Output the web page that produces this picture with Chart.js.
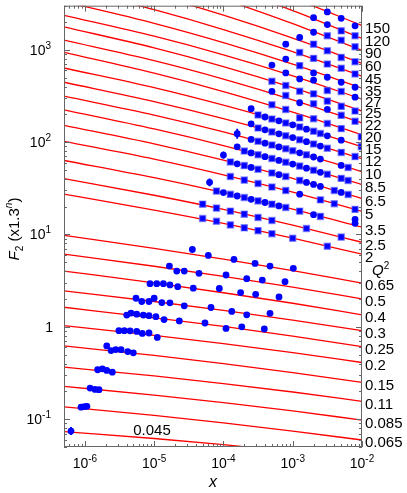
<!DOCTYPE html>
<html>
<head>
<meta charset="utf-8">
<script src="https://cdn.jsdelivr.net/npm/chart.js@4.4.0/dist/chart.umd.min.js"></script>
<style>
  body { margin: 0; background: #fff; }
  canvas { display: block; }
</style>
</head>
<body>
<canvas id="f2Chart" width="407" height="493"></canvas>
<script>
// Q2 bins, top curve first
const q2Bins = ['150', '120', '90', '60', '45', '35', '27', '25', '22', '20', '15', '12', '10', '8.5', '6.5', '5', '3.5', '2.5', '2',
    '0.65', '0.5', '0.4', '0.3', '0.25', '0.2', '0.15', '0.11', '0.085', '0.065', '0.045'];

// fit curves, read at these x
const fitX = [5e-7, 1e-5, 1e-4, 1e-3, 1e-2];
const fitF2 = [
    [23460, 12100, 6839, 3642, 1828],
    [17290, 8876, 4995, 2649, 1324],
    [11490, 6100, 3523, 1917, 984],
    [7071, 3947, 2368, 1338, 713],
    [4757, 2716, 1657, 953, 517],
    [3330, 1936, 1197, 698, 384],
    [2359, 1402, 882, 523, 292],
    [1770, 1048, 658, 389, 217],
    [1270, 761, 481, 287, 161],
    [936, 558, 353, 211, 120],
    [635, 389, 251, 154, 88.9],
    [445, 275, 180, 112, 66.1],
    [315, 196, 129, 80.6, 47.9],
    [224, 139, 91.9, 57.8, 34.7],
    [152, 95.8, 63.8, 40.5, 24.5],
    [102, 65.4, 44.2, 28.7, 17.8],
    [63.3, 41.2, 28.4, 18.8, 12.0],
    [40.3, 26.6, 18.7, 12.6, 8.24],
    [27.3, 18.4, 13.2, 9.12, 6.12],
    [9.80, 7.09, 5.42, 4.06, 2.98],
    [6.12, 4.53, 3.52, 2.69, 2.01],
    [4.02, 3.00, 2.34, 1.80, 1.35],
    [2.45, 1.88, 1.51, 1.18, 0.909],
    [1.63, 1.25, 1.01, 0.792, 0.611],
    [1.03, 0.808, 0.658, 0.525, 0.411],
    [0.622, 0.490, 0.400, 0.319, 0.250],
    [0.366, 0.294, 0.243, 0.197, 0.156],
    [0.227, 0.182, 0.151, 0.123, 0.0977],
    [0.136, 0.110, 0.0913, 0.0744, 0.0595],
    [0.0735, 0.0618, 0.0530, 0.0445, 0.0367]
];

// measured points per bin (c = circle, s = square)
const dataX = [
    [3.16e-3, 5.01e-3, 7.94e-3],
    [2.0e-3, 3.16e-3, 5.01e-3, 7.94e-3],
    [2.0e-3, 3.16e-3, 5.01e-3, 7.94e-3],
    [1.26e-3, 2.0e-3, 3.16e-3, 5.01e-3, 7.94e-3],
    [7.94e-4, 1.26e-3, 2.0e-3, 3.16e-3, 5.01e-3, 7.94e-3],
    [7.94e-4, 1.26e-3, 2.0e-3, 3.16e-3, 5.01e-3, 7.94e-3],
    [5.01e-4, 7.94e-4, 1.26e-3, 2.0e-3, 3.16e-3, 5.01e-3, 7.94e-3],
    [5.01e-4, 7.94e-4, 1.26e-3, 2.0e-3, 3.16e-3, 5.01e-3, 7.94e-3],
    [5.01e-4, 7.94e-4, 1.26e-3, 2.0e-3, 3.16e-3, 5.01e-3, 7.94e-3],
    [5.01e-4, 7.94e-4, 1.26e-3, 2.0e-3, 3.16e-3, 5.01e-3, 9.77e-3],
    [2.51e-4, 3.16e-4, 3.98e-4, 5.01e-4, 6.31e-4, 7.94e-4, 1.0e-3, 1.26e-3, 1.58e-3, 2.0e-3, 2.51e-3, 3.16e-3, 5.01e-3, 9.77e-3],
    [2.51e-4, 3.16e-4, 3.98e-4, 5.01e-4, 6.31e-4, 7.94e-4, 1.0e-3, 1.26e-3, 1.58e-3, 2.0e-3, 2.51e-3, 3.16e-3, 5.01e-3, 7.94e-3],
    [1.58e-4, 2.51e-4, 3.16e-4, 3.98e-4, 5.01e-4, 6.31e-4, 7.94e-4, 1.0e-3, 1.26e-3, 1.58e-3, 2.0e-3, 2.51e-3, 5.01e-3, 6.31e-3],
    [1.58e-4, 2.0e-4, 2.51e-4, 3.16e-4, 3.98e-4, 5.01e-4, 6.31e-4, 7.94e-4, 1.0e-3, 1.26e-3, 1.58e-3, 2.0e-3, 2.51e-3, 3.16e-3, 5.01e-3, 6.31e-3],
    [1.0e-4, 1.26e-4, 1.58e-4, 2.0e-4, 2.51e-4, 3.16e-4, 5.01e-4, 6.31e-4, 7.94e-4, 1.26e-3, 1.58e-3, 2.0e-3, 2.51e-3, 3.98e-3, 5.01e-3, 6.31e-3],
    [1.26e-4, 2.0e-4, 3.16e-4, 5.01e-4, 7.94e-4, 1.26e-3, 2.51e-3, 3.98e-3, 7.94e-3],
    [6.31e-5, 7.94e-5, 1.0e-4, 1.26e-4, 1.58e-4, 2.0e-4, 2.51e-4, 3.16e-4, 3.98e-4, 5.01e-4, 6.31e-4, 7.94e-4, 1.26e-3, 2.0e-3, 2.51e-3, 7.94e-3, 7.94e-3],
    [5.01e-5, 7.94e-5, 1.26e-4, 2.0e-4, 3.16e-4, 5.01e-4, 1.58e-3, 5.01e-3],
    [5.01e-5, 7.94e-5, 1.26e-4, 2.0e-4, 3.16e-4, 5.01e-4, 1.0e-3, 3.16e-3],
    [3.56e-5, 6.05e-5, 1.42e-4, 2.86e-4, 4.70e-4, 1.02e-3],
    [1.66e-5, 2.12e-5, 2.72e-5, 4.44e-5, 1.09e-4, 2.17e-4, 3.64e-4, 7.74e-4],
    [8.71e-6, 1.09e-5, 1.36e-5, 1.69e-5, 2.19e-5, 3.67e-5, 8.72e-5, 1.77e-4, 2.92e-4, 6.34e-4],
    [5.47e-6, 6.62e-6, 8.43e-6, 1.00e-5, 1.29e-5, 1.69e-5, 2.72e-5, 6.62e-5, 1.32e-4, 2.17e-4, 4.70e-4],
    [4.02e-6, 4.64e-6, 5.60e-6, 6.98e-6, 8.43e-6, 1.06e-5, 1.39e-5, 2.31e-5, 5.42e-5, 1.09e-4, 1.84e-4, 3.89e-4],
    [3.10e-6, 3.71e-6, 4.49e-6, 5.60e-6, 6.75e-6, 8.43e-6, 1.11e-5],
    [2.07e-6, 2.39e-6, 2.79e-6, 3.33e-6, 4.16e-6, 5.01e-6],
    [1.53e-6, 1.79e-6, 2.07e-6, 2.49e-6],
    [1.19e-6, 1.40e-6, 1.60e-6],
    [8.81e-7, 9.89e-7, 1.07e-6],
    [6.31e-7]
];
const dataF2 = [
    [2567, 2190, 1815],
    [2228, 1874, 1603, 1416],
    [1548, 1416, 1270, 1078],
    [1358, 1150, 976, 827, 743],
    [1150, 936, 807, 700, 630, 547],
    [793, 673, 561, 504, 445, 393],
    [683, 561, 483, 468, 362, 354, 307],
    [456, 410, 356, 333, 278, 244, 217],
    [354, 320, 267, 260, 226, 195, 168],
    [254, 226, 183, 179, 159, 140, 114],
    [230, 197, 187, 178, 170, 161, 154, 146, 138, 131, 124, 117, 105, 89.3],
    [158, 142, 136, 129, 123, 117, 112, 106, 101, 95.5, 90.6, 86.0, 77.4, 69.7],
    [123.6, 107, 102, 97.4, 92.9, 88.7, 84.6, 80.7, 76.6, 72.8, 69.0, 65.5, 56.0, 53.1],
    [88.9, 80.0, 76.4, 72.9, 69.5, 66.4, 63.4, 60.5, 57.8, 55.0, 52.2, 49.5, 47.1, 44.8, 40.5, 38.4],
    [72.4, 61.0, 58.2, 55.7, 53.2, 50.8, 46.4, 44.4, 42.4, 38.5, 36.6, 34.8, 33.1, 30.0, 28.5, 27.1],
    [42.4, 38.8, 35.6, 32.6, 29.9, 27.3, 23.7, 21.5, 18.7],
    [36.7, 29.5, 28.4, 27.2, 26.1, 25.1, 24.0, 23.1, 22.2, 21.3, 20.4, 19.6, 17.9, 16.4, 15.7, 14.6, 13.2],
    [21.3, 19.3, 17.9, 16.6, 15.3, 14.2, 11.6, 9.37],
    [14.9, 13.9, 12.7, 11.8, 11.0, 10.2, 9.12, 7.47],
    [6.88, 5.93, 5.37, 4.86, 4.55, 4.30],
    [4.55, 4.02, 4.02, 3.80, 3.64, 3.32, 3.21, 3.08],
    [2.93, 2.93, 2.93, 2.84, 2.72, 2.62, 2.60, 2.35, 2.25, 2.11],
    [2.04, 1.88, 1.88, 2.04, 1.83, 1.82, 1.69, 1.62, 1.47, 1.35, 1.40],
    [1.34, 1.41, 1.37, 1.34, 1.32, 1.29, 1.20, 1.16, 1.10, 0.962, 1.00, 0.947],
    [0.908, 0.908, 0.905, 0.893, 0.849, 0.858, 0.769],
    [0.622, 0.553, 0.568, 0.566, 0.540, 0.523],
    [0.343, 0.351, 0.337, 0.323],
    [0.217, 0.210, 0.209],
    [0.135, 0.137, 0.138],
    [0.0744]
];
const dataShape = ['ccc', 'ccss', 'csss', 'cssss', 'csssss', 'cscccc', 'ccccssc', 'sssssss', 'cscscss', 'sssssss',
    'cscscscscssccs', 'cscscscscscsss', 'ccscscsscscccs', 'cscscscscscscsss', 'cscscsscsscccscs', 'ssssscsss',
    'cscscscscscsscscc', 'ssssssss', 'ssssssss',
    'cccccc', 'cccccccc', 'cccccccccc', 'ccccccccccc', 'cccccccccccc', 'ccccccc', 'cccccc', 'cccc', 'ccc', 'ccc', 'c'];

// visible error bars: bin index, point index, low, high
const errBin = [12, 13, 14, 16, 29];
const errIdx = [0, 0, 0, 0, 0];
const errLow = [109, 84.7, 66.4, 33.2, 0.0674];
const errHigh = [140, 93.3, 79.0, 40.5, 0.0821];

const xTicks = [1e-6, 1e-5, 1e-4, 1e-3, 1e-2];
const xTickExp = ['-6', '-5', '-4', '-3', '-2'];
const yTicks = [0.1, 1, 10, 100, 1000];
const yTickBase = ['10', '1', '10', '10', '10'];
const yTickExp = ['-1', '', '1', '2', '3'];

const FONT = '"Liberation Sans", Arial, Helvetica, sans-serif';
const AXIS_GREY = '#666666';

// draws a run of text pieces: [text, size, dy, italic]
function drawRich(ctx, parts, x, y, align) {
    let total = 0;
    const widths = parts.map(p => {
        ctx.font = (p[3] ? 'italic ' : '') + p[1] + 'px ' + FONT;
        const w = ctx.measureText(p[0]).width;
        total += w;
        return w;
    });
    let cx = align === 'right' ? x - total : align === 'center' ? x - total / 2 : x;
    parts.forEach((p, i) => {
        ctx.font = (p[3] ? 'italic ' : '') + p[1] + 'px ' + FONT;
        ctx.fillText(p[0], cx, y + p[2]);
        cx += widths[i];
    });
}

const decorations = {
    id: 'decorations',
    afterDatasetsDraw(chart) {
        const {ctx, scales: {x, y}} = chart;
        ctx.save();
        ctx.strokeStyle = '#0000ff';
        ctx.lineWidth = 2;
        ctx.beginPath();
        errBin.forEach((b, i) => {
            const px = x.getPixelForValue(dataX[b][errIdx[i]]);
            ctx.moveTo(px, y.getPixelForValue(errLow[i]));
            ctx.lineTo(px, y.getPixelForValue(errHigh[i]));
        });
        ctx.stroke();
        ctx.restore();
    },
    afterDraw(chart) {
        const {ctx, chartArea: a, scales: {x, y}} = chart;
        ctx.save();
        ctx.strokeStyle = AXIS_GREY;
        ctx.lineWidth = 1;
        ctx.strokeRect(a.left + 0.5, a.top + 0.5, a.right - a.left - 1, a.bottom - a.top - 1);

        // inward ticks on all four sides
        ctx.beginPath();
        for (let e = -7; e <= -2; e++) {
            for (let m = 1; m <= 9; m++) {
                const v = m * Math.pow(10, e);
                if (v < x.min || v > x.max) continue;
                const px = Math.round(x.getPixelForValue(v)) + 0.5;
                const len = m === 1 ? 6 : 3;
                ctx.moveTo(px, a.bottom); ctx.lineTo(px, a.bottom - len);
                ctx.moveTo(px, a.top); ctx.lineTo(px, a.top + len);
            }
        }
        for (let e = -2; e <= 3; e++) {
            for (let m = 1; m <= 9; m++) {
                const v = m * Math.pow(10, e);
                if (v < y.min || v > y.max) continue;
                const py = Math.round(y.getPixelForValue(v)) + 0.5;
                const len = m === 1 ? 6 : 3;
                ctx.moveTo(a.left, py); ctx.lineTo(a.left + len, py);
                ctx.moveTo(a.right, py); ctx.lineTo(a.right - len, py);
            }
        }
        ctx.stroke();

        ctx.fillStyle = '#000';
        ctx.textBaseline = 'alphabetic';
        xTicks.forEach((v, i) => {
            drawRich(ctx, [['10', 14, 0], [xTickExp[i], 10, -6]], x.getPixelForValue(v), 468, 'center');
        });
        yTicks.forEach((v, i) => {
            const parts = [[yTickBase[i], 14, 0]];
            if (yTickExp[i]) parts.push([yTickExp[i], 10, -6]);
            drawRich(ctx, parts, yTickExp[i] ? 51 : 53, y.getPixelForValue(v) + 5, 'right');
        });

        // axis titles
        drawRich(ctx, [['x', 16, 0, true]], (a.left + a.right) / 2, 487, 'center');
        ctx.save();
        ctx.translate(18.5, 229);
        ctx.rotate(-Math.PI / 2);
        drawRich(ctx, [['F', 15, 0, true], ['2', 10, 4], [' (x1.3', 15, 0], ['n', 10, -7, true], [')', 15, 0]], 0, 0, 'center');
        ctx.restore();

        // Q2 labels at curve ends
        q2Bins.forEach((q, i) => {
            const last = fitF2[i][fitF2[i].length - 1];
            if (last < y.min) return;
            drawRich(ctx, [[q, 15, 0]], a.right + 3, y.getPixelForValue(last) + 2 + 5.4, 'left');
        });
        drawRich(ctx, [['Q', 15, 0, true], ['2', 10, -6]], 372, 275, 'left');
        drawRich(ctx, [['0.045', 15, 0]], 152, 434.5, 'center');
        ctx.restore();
    }
};

const datasets = [];
q2Bins.forEach((q, i) => {
    datasets.push({
        label: 'fit ' + q,
        showLine: true,
        data: fitX.map((v, k) => ({x: v, y: fitF2[i][k]})),
        borderColor: '#ff0000',
        borderWidth: 1.3,
        pointRadius: 0,
        cubicInterpolationMode: 'monotone',
        order: 1
    });
    const shapes = dataShape[i].split('');
    datasets.push({
        label: 'data ' + q,
        data: dataX[i].map((v, k) => ({x: v, y: dataF2[i][k]})),
        pointStyle: shapes.map(s => s === 's' ? 'rect' : 'circle'),
        pointRadius: shapes.map(s => s === 's' ? 4.3 : 3.4),
        backgroundColor: '#0000ff',
        borderColor: shapes.map(s => s === 's' ? 'rgba(90,90,255,0.6)' : '#0000ff'),
        borderWidth: shapes.map(s => s === 's' ? 1.4 : 0),
        order: 0
    });
});

new Chart(document.getElementById('f2Chart'), {
    type: 'scatter',
    data: { datasets },
    options: {
        responsive: false,
        animation: false,
        events: [],
        layout: { padding: { left: 64, right: 45, top: 3, bottom: 46 } },
        plugins: { legend: { display: false }, tooltip: { enabled: false } },
        scales: {
            x: { type: 'logarithmic', min: 5e-7, max: 1e-2, display: false },
            y: { type: 'logarithmic', min: 0.05, max: 3000, display: false }
        }
    },
    plugins: [decorations]
});
</script>
</body>
</html>
